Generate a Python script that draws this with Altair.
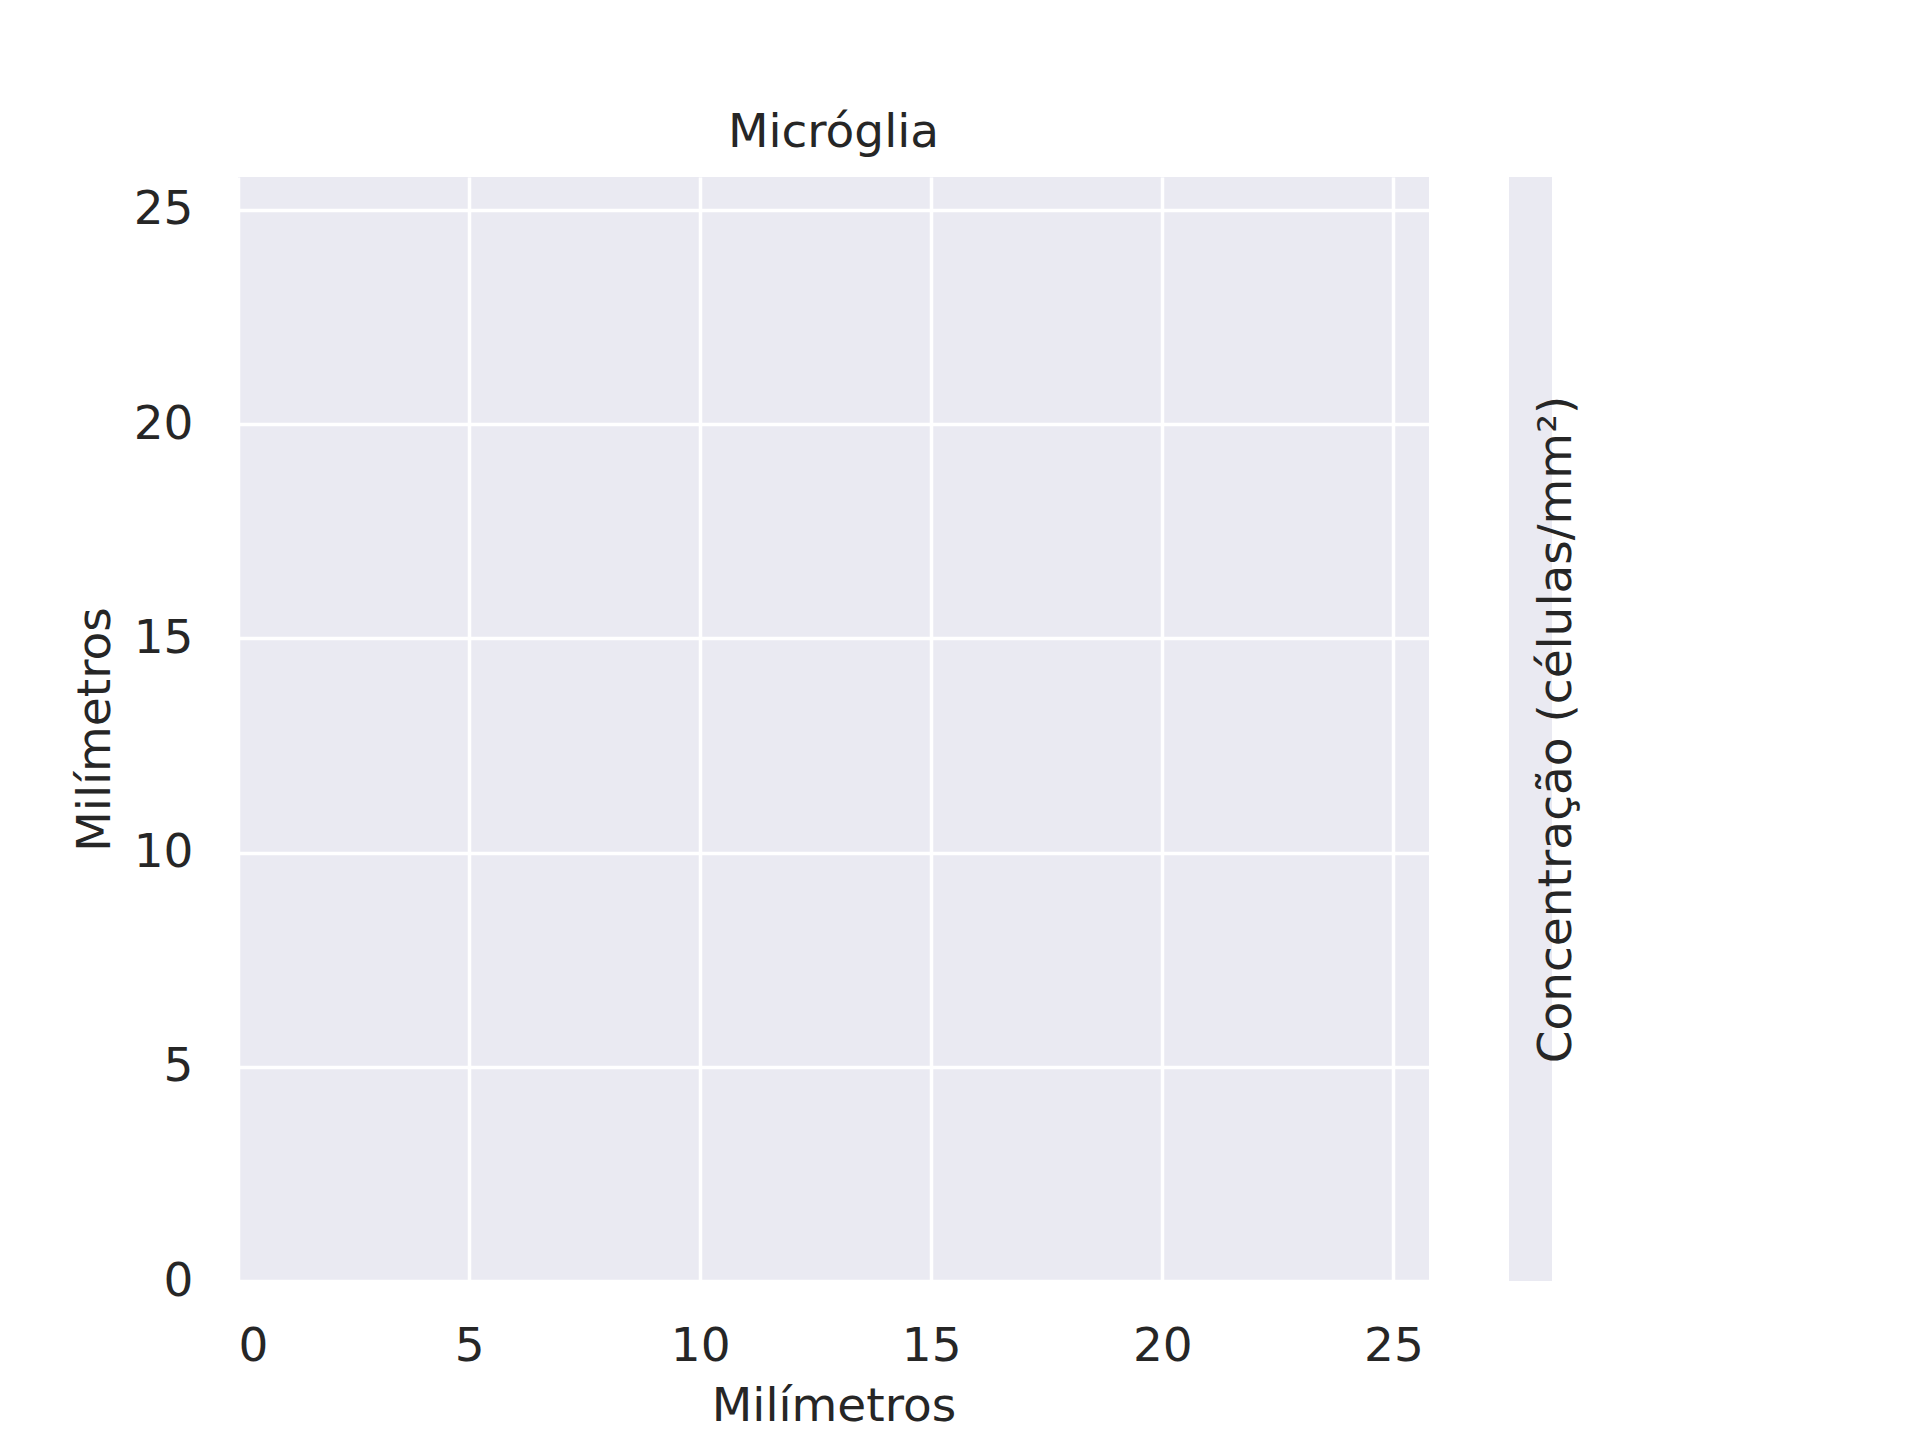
import altair as alt
import pandas as pd

# empty heatmap: no cells recorded, only the axis range
x_mm = [0.0]
y_mm = [0.0]
ticks = [0, 5, 10, 15, 20, 25]
extent = [0, 25.77]

df = pd.DataFrame({"x": x_mm, "y": y_mm})
FONT = "DejaVu Sans"
INK = "#262626"

axis_common = dict(
    values=ticks, grid=True, gridColor="white", gridWidth=3.5, ticks=False,
    domain=False, labelFont=FONT, labelFontSize=47, labelColor=INK,
    titleFont=FONT, titleFontSize=47, titleColor=INK, titleFontWeight="normal",
)

main = (
    alt.Chart(df)
    .mark_point(opacity=0)
    .encode(
        x=alt.X("x:Q", scale=alt.Scale(domain=extent, nice=False),
                axis=alt.Axis(title="Milímetros", labelPadding=42, titlePadding=14, **axis_common)),
        y=alt.Y("y:Q", scale=alt.Scale(domain=extent, nice=False),
                axis=alt.Axis(title="Milímetros", labelPadding=45, titlePadding=14, **axis_common)),
    )
    .properties(
        width=1191, height=1104,
        title=alt.TitleParams("Micróglia", font=FONT, fontSize=47, color=INK,
                              fontWeight="normal", offset=20),
    )
)

bar = (
    alt.Chart(df)
    .mark_point(opacity=0)
    .encode(
        y=alt.Y("y:Q", scale=alt.Scale(domain=extent, nice=False),
                axis=alt.Axis(orient="right", labels=False, ticks=False, grid=False, domain=False,
                              title="Concentração (células/mm²)", titleFont=FONT, titleFontSize=47,
                              titleColor=INK, titleFontWeight="normal", titlePadding=28,
                              titleAngle=270)),
    )
    .properties(width=43, height=1104)
)

chart = (
    alt.hconcat(main, bar, spacing=80)
    .configure_view(fill="#EAEAF2", stroke=None)
    .properties(padding={"left": 63, "top": 101, "right": 10, "bottom": 10}, background="white")
)

chart.save("out.html", embed_options={"renderer": "svg", "actions": False})
